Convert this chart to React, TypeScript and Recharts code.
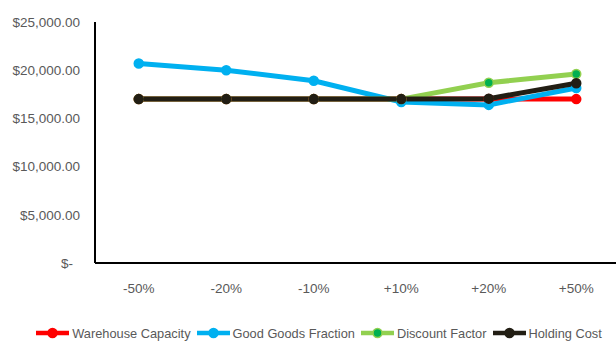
import React from 'react';
import { LineChart, Line, XAxis, YAxis, Legend } from 'recharts';

// Sensitivity scenarios (change applied to each parameter)
const categories = ['-50%', '-20%', '-10%', '+10%', '+20%', '+50%'];

// Resulting total cost per scenario, by parameter varied
const warehouseCapacity = [17000, 17000, 17000, 17000, 17000, 17000];
const goodGoodsFraction = [20700, 20000, 18900, 16700, 16400, 18150];
const discountFactor = [17000, 17000, 17000, 17000, 18700, 19600];
const holdingCost = [17000, 17000, 17000, 17000, 17050, 18650];

const yTicks = [0, 5000, 10000, 15000, 20000, 25000];

const series = [
  { key: 'warehouse', name: 'Warehouse Capacity', values: warehouseCapacity, color: '#FF0000', dotFill: '#FF0000' },
  { key: 'goodGoods', name: 'Good Goods Fraction', values: goodGoodsFraction, color: '#00B0F0', dotFill: '#00B0F0' },
  { key: 'discount', name: 'Discount Factor', values: discountFactor, color: '#92D050', dotFill: '#00B050' },
  { key: 'holding', name: 'Holding Cost', values: holdingCost, color: '#221E14', dotFill: '#221E14' },
];

const data = categories.map((label, i) => {
  const row: Record<string, string | number> = { label };
  series.forEach((s) => {
    row[s.key] = s.values[i];
  });
  return row;
});

const FONT = '"Liberation Sans", Arial, sans-serif';
const TEXT = '#595959';
const FS = 13.5;

const money = (v: number) =>
  v === 0
    ? '$-'
    : '$' + v.toLocaleString('en-US', { minimumFractionDigits: 2, maximumFractionDigits: 2 });

const YTick = (props: any) => {
  const { x, y, payload } = props;
  const v = payload.value as number;
  return (
    <text
      x={v === 0 ? x - 7 : x}
      y={y}
      dy="0.36em"
      textAnchor="end"
      fill={TEXT}
      fontSize={FS}
      fontFamily={FONT}
    >
      {money(v)}
    </text>
  );
};

const XTick = (props: any) => {
  const { x, y, payload } = props;
  return (
    <text x={x} y={y} dy="0.71em" textAnchor="middle" fill={TEXT} fontSize={FS} fontFamily={FONT}>
      {payload.value}
    </text>
  );
};

const LegendContent = () => (
  <div
    style={{
      display: 'flex',
      justifyContent: 'center',
      alignItems: 'center',
      height: 22,
      paddingLeft: 24,
      fontFamily: FONT,
      fontSize: 12.8,
      color: TEXT,
      whiteSpace: 'nowrap',
    }}
  >
    {series.map((s) => (
      <div key={s.key} style={{ display: 'flex', alignItems: 'center', marginRight: 6 }}>
        <svg width={33} height={12} style={{ marginRight: 3 }}>
          <line x1={0} y1={6} x2={33} y2={6} stroke={s.color} strokeWidth={4.5} />
          <circle cx={16.5} cy={6} r={4.5} fill={s.dotFill} stroke={s.color} strokeWidth={1.5} />
        </svg>
        <span>{s.name}</span>
      </div>
    ))}
  </div>
);

export default function App() {
  return (
    <div style={{ position: 'absolute', left: 0, top: 0, width: 616, height: 344, background: '#fff' }}>
      <LineChart width={616} height={344} data={data} margin={{ top: 22, right: -4, bottom: 0, left: 0 }}>
        <XAxis
          dataKey="label"
          height={59}
          padding={{ left: 43.75, right: 43.75 }}
          axisLine={{ stroke: '#000', strokeWidth: 2 }}
          tickLine={false}
          tickSize={6}
          tickMargin={14}
          tick={<XTick />}
          interval={0}
        />
        <YAxis
          width={95}
          domain={[0, 25000]}
          ticks={yTicks}
          interval={0}
          axisLine={{ stroke: '#000', strokeWidth: 2 }}
          tickLine={false}
          tickSize={6}
          tickMargin={9}
          tick={<YTick />}
        />
        <Legend verticalAlign="bottom" height={22} content={<LegendContent />} />
        {series.map((s) => (
          <Line
            key={s.key}
            dataKey={s.key}
            name={s.name}
            stroke={s.color}
            strokeWidth={5}
            isAnimationActive={false}
            dot={{ r: 4.5, fill: s.dotFill, stroke: s.color, strokeWidth: 1.5 }}
            activeDot={false}
          />
        ))}
      </LineChart>
    </div>
  );
}
